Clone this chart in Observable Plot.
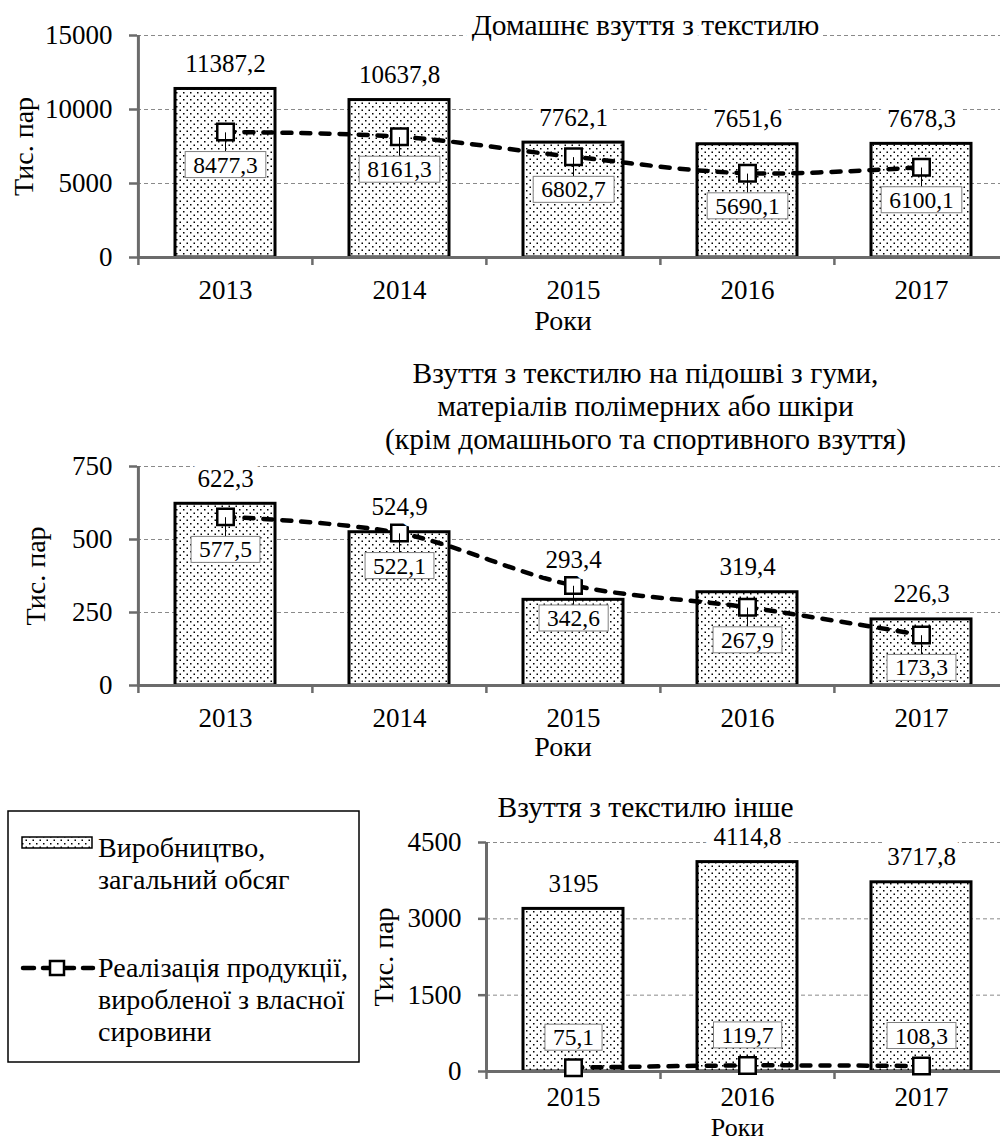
<!DOCTYPE html>
<html>
<head>
<meta charset="utf-8">
<script src="https://cdn.jsdelivr.net/npm/d3@7"></script>
<script src="https://cdn.jsdelivr.net/npm/@observablehq/plot@0.6"></script>
<style>
html, body { margin: 0; padding: 0; background: #fff; overflow: hidden; }
#page { position: relative; width: 1000px; height: 1142px; overflow: hidden; font-family: "Liberation Serif", "Times New Roman", serif; }
.panel { position: absolute; left: 0; }
#legend { position: absolute; left: 0; top: 800px; }
</style>
</head>
<body>
<svg width="0" height="0" style="position:absolute">
  <defs>
    <pattern id="dots" patternUnits="userSpaceOnUse" width="7" height="7">
      <rect width="7" height="7" fill="#fff"/>
      <rect x="1" y="1" width="1.5" height="1.5" fill="#000"/>
      <rect x="4.5" y="4.5" width="1.5" height="1.5" fill="#000"/>
    </pattern>
  </defs>
</svg>
<div id="page"></div>
<script>
// ---------- data ----------
const years1 = ["2013", "2014", "2015", "2016", "2017"];
const prod1 = [11387.2, 10637.8, 7762.1, 7651.6, 7678.3];
const sales1 = [8477.3, 8161.3, 6802.7, 5690.1, 6100.1];
const ticks1 = [0, 5000, 10000, 15000];
const title1 = "Домашнє взуття з текстилю";

const years2 = ["2013", "2014", "2015", "2016", "2017"];
const prod2 = [622.3, 524.9, 293.4, 319.4, 226.3];
const sales2 = [577.5, 522.1, 342.6, 267.9, 173.3];
const ticks2 = [0, 250, 500, 750];
const title2 = "Взуття з текстилю на підошві з гуми,\nматеріалів полімерних або шкіри\n(крім домашнього та спортивного взуття)";

const years3 = ["2015", "2016", "2017"];
const prod3 = [3195, 4114.8, 3717.8];
const sales3 = [75.1, 119.7, 108.3];
const ticks3 = [0, 1500, 3000, 4500];
const title3 = "Взуття з текстилю інше";

const xTitle = "Роки";
const yTitle = "Тис. пар";
const legendProd = ["Виробництво,", "загальний обсяг"];
const legendSales = ["Реалізація продукції,", "виробленої з власної", "сировини"];

// ---------- helpers ----------
const fmt = v => String(v).replace(".", ",");
const NS = "http://www.w3.org/2000/svg";
const AXIS = "#6b6b6b";
const W = 1008;

function boxLabels(svg, dy, leader) {
  d3.select(svg).selectAll("g.boxlab text").each(function () {
    const b = this.getBBox();
    const tr = this.getAttribute("transform");
    const padX = 8, padY = 0;
    const r = document.createElementNS(NS, "rect");
    r.setAttribute("x", b.x - padX);
    r.setAttribute("y", b.y - padY);
    r.setAttribute("width", b.width + 2 * padX);
    r.setAttribute("height", b.height + 2 * padY);
    r.setAttribute("fill", "#fff");
    r.setAttribute("stroke", "#808080");
    r.setAttribute("stroke-width", "1");
    if (tr) r.setAttribute("transform", tr);
    this.parentNode.insertBefore(r, this);
    if (leader) {
      const ax = parseFloat(this.getAttribute("x")) || 0;
      const ay = (parseFloat(this.getAttribute("y")) || 0) - dy;
      const l = document.createElementNS(NS, "line");
      l.setAttribute("x1", ax);
      l.setAttribute("x2", ax);
      l.setAttribute("y1", ay);
      l.setAttribute("y2", b.y - padY);
      l.setAttribute("stroke", "#000");
      l.setAttribute("stroke-width", "1");
      if (tr) l.setAttribute("transform", tr);
      this.parentNode.insertBefore(l, r);
    }
  });
}

function panel(cfg) {
  const {years, prod, sales, ticks, title, top, height, marginTop, marginBottom, marginLeft,
         yLabelOffset, salesDy, leader, titleDy, titleHalo, xTitleDy, xTickPad, xTitleSize} = cfg;
  const data = years.map((y, i) => ({year: y, prod: prod[i], sales: sales[i]}));
  const step = (W - marginLeft) / years.length;
  const ymax = ticks[ticks.length - 1];
  const plot = Plot.plot({
    width: W, height, marginTop, marginBottom, marginLeft, marginRight: 0,
    style: "max-width:none;font-family:'Liberation Serif','Times New Roman',serif;font-size:27px;color:#000;background:transparent;overflow:visible;",
    x: {domain: years, padding: 0, axis: null},
    y: {domain: [0, ymax], axis: null},
    marks: [
      Plot.gridY(ticks.slice(1), {stroke: "#8a8a8a", strokeOpacity: 1, strokeWidth: 1, strokeDasharray: "4,3"}),
      Plot.barY(data, {x: "year", y: "prod", fill: "url(#dots)", stroke: "#000", strokeWidth: 3, insetLeft: 37, insetRight: 37}),
      Plot.ruleY([0], {stroke: AXIS, strokeWidth: 3}),
      Plot.ruleX([years[0]], {dx: -step / 2, stroke: AXIS, strokeWidth: 3}),
      Plot.axisY({ticks, tickSize: 8, tickPadding: 17, fontSize: 27, stroke: AXIS, strokeWidth: 2.5, tickFormat: d => String(d), label: null}),
      Plot.axisX({ticks: years, tickSize: 8, tickFormat: () => "", dx: -step / 2, stroke: AXIS, strokeWidth: 2.5, label: null}),
      Plot.axisX({tickSize: 0, tickPadding: xTickPad, fontSize: 27, label: null}),
      Plot.line(data, {x: "year", y: "sales", curve: "catmull-rom", stroke: "#000", strokeWidth: 4.5, strokeDasharray: "9,10", strokeLinecap: "round"}),
      Plot.dot(data, {x: "year", y: "sales", symbol: "square", r: 9.3, fill: "#fff", stroke: "#000", strokeWidth: 2.5}),
      Plot.text(data, {x: "year", y: d => Math.max(d.prod, d.sales), text: d => fmt(d.prod), dy: -25, fontSize: 25, fill: "#000", stroke: "#fff", strokeWidth: 16, lineAnchor: "middle"}),
      Plot.text(data, {x: "year", y: "sales", text: d => fmt(d.sales), dy: salesDy, fontSize: 23.5, fill: "#000", lineAnchor: "middle", className: "boxlab"}),
      Plot.text([title], {frameAnchor: "top-left", dx: 645 - marginLeft, dy: titleDy, textAnchor: "middle", lineAnchor: "middle", fontSize: 29.5, lineHeight: 33 / 29.5, fill: "#000", stroke: "#fff", strokeWidth: titleHalo}),
      Plot.text([yTitle], {frameAnchor: "left", dx: -yLabelOffset, rotate: -90, textAnchor: "middle", lineAnchor: "middle", fontSize: 28, fill: "#000"}),
      Plot.text([xTitle], {frameAnchor: "bottom", dx: -10, dy: xTitleDy, textAnchor: "middle", lineAnchor: "middle", fontSize: xTitleSize, fill: "#000"})
    ]
  });
  const wrap = document.createElement("div");
  wrap.className = "panel";
  wrap.style.top = top + "px";
  wrap.appendChild(plot);
  document.getElementById("page").appendChild(wrap);
  boxLabels(plot, salesDy, leader);
}

panel({years: years1, prod: prod1, sales: sales1, ticks: ticks1, title: title1,
       top: 0, height: 337, marginTop: 35, marginBottom: 80, marginLeft: 137,
       yLabelOffset: 113, salesDy: 33, leader: true, titleDy: -11, titleHalo: 12,
       xTitleDy: 64, xTickPad: 22, xTitleSize: 28});
panel({years: years2, prod: prod2, sales: sales2, ticks: ticks2, title: title2,
       top: 340, height: 425, marginTop: 126, marginBottom: 80, marginLeft: 137,
       yLabelOffset: 101, salesDy: 33, leader: true, titleDy: -61, titleHalo: 20,
       xTitleDy: 62, xTickPad: 22, xTitleSize: 28});
panel({years: years3, prod: prod3, sales: sales3, ticks: ticks3, title: title3,
       top: 770, height: 372, marginTop: 72, marginBottom: 71, marginLeft: 486,
       yLabelOffset: 102, salesDy: -30, leader: false, titleDy: -36, titleHalo: 0,
       xTitleDy: 56, xTickPad: 15, xTitleSize: 26});

// ---------- legend ----------
(function legend() {
  const svg = d3.select("#page").append("svg").attr("id", "legend")
    .attr("width", 370).attr("height", 270)
    .style("font-family", "'Liberation Serif','Times New Roman',serif");
  svg.append("rect").attr("x", 8).attr("y", 11).attr("width", 351).attr("height", 251)
    .attr("fill", "#fff").attr("stroke", "#000").attr("stroke-width", 1.5);
  svg.append("rect").attr("x", 22).attr("y", 37).attr("width", 70).attr("height", 11)
    .attr("fill", "url(#dots)").attr("stroke", "#000").attr("stroke-width", 1.5);
  svg.append("line").attr("x1", 23).attr("x2", 93).attr("y1", 168).attr("y2", 168)
    .attr("stroke", "#000").attr("stroke-width", 4.5).attr("stroke-dasharray", "11,9").attr("stroke-linecap", "round");
  svg.append("rect").attr("x", 50).attr("y", 161).attr("width", 14).attr("height", 14)
    .attr("fill", "#fff").attr("stroke", "#000").attr("stroke-width", 2.5);
  legendProd.forEach((t, i) => svg.append("text").attr("x", 98).attr("y", 57 + i * 32)
    .attr("font-size", 28).attr("fill", "#000").text(t));
  legendSales.forEach((t, i) => svg.append("text").attr("x", 98).attr("y", 177 + i * 32)
    .attr("font-size", 28).attr("fill", "#000").text(t));
})();
</script>
</body>
</html>
